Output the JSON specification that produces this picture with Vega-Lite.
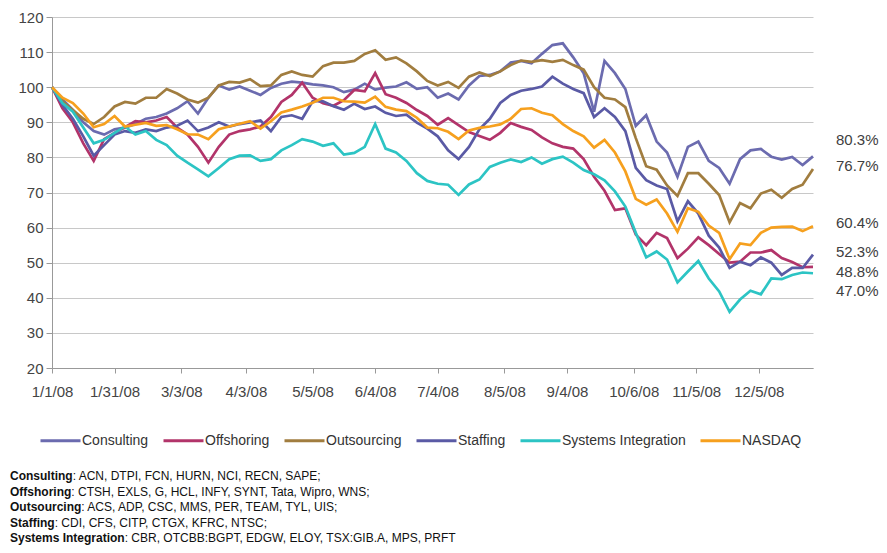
{
"$schema": "https://vega.github.io/schema/vega-lite/v6.json",
"padding": {"left": 10, "top": 10, "right": 5, "bottom": 5},
"background": "white",
"config": {"font": "Liberation Sans", "view": {"stroke": null}},
"bounds": "flush",
"spacing": 108,
"datasets": {
"idx": [
{"date":"2008-01-01","Consulting":100,"Offshoring":100,"Outsourcing":100,"Staffing":100,"Systems Integration":100,"NASDAQ":100},
{"date":"2008-01-06","Consulting":96.5,"Offshoring":94,"Outsourcing":96,"Staffing":95,"Systems Integration":95.5,"NASDAQ":97},
{"date":"2008-01-11","Consulting":93.5,"Offshoring":90,"Outsourcing":93.5,"Staffing":91,"Systems Integration":93,"NASDAQ":95.5},
{"date":"2008-01-16","Consulting":90,"Offshoring":84,"Outsourcing":91,"Staffing":86,"Systems Integration":88.5,"NASDAQ":92.5},
{"date":"2008-01-21","Consulting":87.5,"Offshoring":79,"Outsourcing":89.5,"Staffing":80.5,"Systems Integration":84,"NASDAQ":88.6},
{"date":"2008-01-26","Consulting":86.5,"Offshoring":85.2,"Outsourcing":91.5,"Staffing":83.5,"Systems Integration":85,"NASDAQ":89.5},
{"date":"2008-01-31","Consulting":88,"Offshoring":87,"Outsourcing":94.5,"Staffing":86.5,"Systems Integration":87,"NASDAQ":91.8},
{"date":"2008-02-05","Consulting":88.5,"Offshoring":88.6,"Outsourcing":95.8,"Staffing":87.5,"Systems Integration":88.8,"NASDAQ":88.8},
{"date":"2008-02-10","Consulting":89.5,"Offshoring":90.3,"Outsourcing":95.3,"Staffing":87,"Systems Integration":86.5,"NASDAQ":89.3},
{"date":"2008-02-15","Consulting":91,"Offshoring":90,"Outsourcing":97,"Staffing":88,"Systems Integration":87.5,"NASDAQ":89.8},
{"date":"2008-02-20","Consulting":91.5,"Offshoring":90.5,"Outsourcing":97,"Staffing":87.5,"Systems Integration":85,"NASDAQ":89},
{"date":"2008-02-25","Consulting":92.5,"Offshoring":91.5,"Outsourcing":99.5,"Staffing":88.5,"Systems Integration":83.5,"NASDAQ":89.2},
{"date":"2008-03-01","Consulting":94,"Offshoring":88.5,"Outsourcing":98.2,"Staffing":89,"Systems Integration":80.5,"NASDAQ":88},
{"date":"2008-03-06","Consulting":96,"Offshoring":86.5,"Outsourcing":96.5,"Staffing":90.5,"Systems Integration":78.5,"NASDAQ":86.6},
{"date":"2008-03-11","Consulting":92.5,"Offshoring":83,"Outsourcing":95.6,"Staffing":87.5,"Systems Integration":76.6,"NASDAQ":86.5},
{"date":"2008-03-16","Consulting":97,"Offshoring":78.5,"Outsourcing":97,"Staffing":88.5,"Systems Integration":74.6,"NASDAQ":85.2},
{"date":"2008-03-21","Consulting":100.5,"Offshoring":83,"Outsourcing":100.5,"Staffing":90,"Systems Integration":77,"NASDAQ":88},
{"date":"2008-03-26","Consulting":99.3,"Offshoring":86.5,"Outsourcing":101.5,"Staffing":88.8,"Systems Integration":79.5,"NASDAQ":88.8},
{"date":"2008-03-31","Consulting":100.2,"Offshoring":87.5,"Outsourcing":101.3,"Staffing":89.5,"Systems Integration":80.5,"NASDAQ":89.6},
{"date":"2008-04-05","Consulting":99,"Offshoring":88,"Outsourcing":102.3,"Staffing":90,"Systems Integration":80.6,"NASDAQ":90.3},
{"date":"2008-04-10","Consulting":97.8,"Offshoring":88.8,"Outsourcing":100.3,"Staffing":90.5,"Systems Integration":79,"NASDAQ":88.2},
{"date":"2008-04-15","Consulting":99.8,"Offshoring":91.5,"Outsourcing":100.5,"Staffing":87.5,"Systems Integration":79.5,"NASDAQ":90.3},
{"date":"2008-04-20","Consulting":101,"Offshoring":95.8,"Outsourcing":103.5,"Staffing":91.5,"Systems Integration":82,"NASDAQ":92.8},
{"date":"2008-04-25","Consulting":101.6,"Offshoring":97.8,"Outsourcing":104.5,"Staffing":92,"Systems Integration":83.5,"NASDAQ":93.6},
{"date":"2008-04-30","Consulting":101.3,"Offshoring":101.3,"Outsourcing":103.5,"Staffing":91,"Systems Integration":85.2,"NASDAQ":94.5},
{"date":"2008-05-05","Consulting":100.8,"Offshoring":97,"Outsourcing":103,"Staffing":96,"Systems Integration":84.5,"NASDAQ":95.6},
{"date":"2008-05-10","Consulting":100.5,"Offshoring":95.4,"Outsourcing":106,"Staffing":96,"Systems Integration":83.3,"NASDAQ":97},
{"date":"2008-05-15","Consulting":100,"Offshoring":94.7,"Outsourcing":107,"Staffing":94.6,"Systems Integration":84,"NASDAQ":97},
{"date":"2008-05-20","Consulting":98.6,"Offshoring":96.3,"Outsourcing":107,"Staffing":93.6,"Systems Integration":80.8,"NASDAQ":96},
{"date":"2008-05-25","Consulting":99.3,"Offshoring":99.2,"Outsourcing":107.5,"Staffing":95.3,"Systems Integration":81.3,"NASDAQ":95.9},
{"date":"2008-05-30","Consulting":101,"Offshoring":98.8,"Outsourcing":109.5,"Staffing":93.8,"Systems Integration":83,"NASDAQ":95.6},
{"date":"2008-06-04","Consulting":99.3,"Offshoring":104,"Outsourcing":110.5,"Staffing":94.5,"Systems Integration":89.5,"NASDAQ":97.3},
{"date":"2008-06-09","Consulting":99.9,"Offshoring":98,"Outsourcing":107.8,"Staffing":92.7,"Systems Integration":82.5,"NASDAQ":94.4},
{"date":"2008-06-14","Consulting":100.2,"Offshoring":97,"Outsourcing":108.5,"Staffing":91.8,"Systems Integration":81.4,"NASDAQ":93.6},
{"date":"2008-06-19","Consulting":101.4,"Offshoring":95.5,"Outsourcing":106.8,"Staffing":92.2,"Systems Integration":79,"NASDAQ":93.2},
{"date":"2008-06-24","Consulting":99.5,"Offshoring":93.5,"Outsourcing":104.5,"Staffing":89.9,"Systems Integration":75.5,"NASDAQ":91.3},
{"date":"2008-06-29","Consulting":100,"Offshoring":91.8,"Outsourcing":101.8,"Staffing":88.2,"Systems Integration":73.3,"NASDAQ":88.5},
{"date":"2008-07-04","Consulting":97,"Offshoring":89.3,"Outsourcing":100.5,"Staffing":86,"Systems Integration":72.5,"NASDAQ":88.3},
{"date":"2008-07-09","Consulting":98.2,"Offshoring":91.2,"Outsourcing":101.5,"Staffing":82,"Systems Integration":72.2,"NASDAQ":87.3},
{"date":"2008-07-14","Consulting":96.5,"Offshoring":89.2,"Outsourcing":99.8,"Staffing":79.5,"Systems Integration":69.3,"NASDAQ":85.2},
{"date":"2008-07-19","Consulting":100.5,"Offshoring":87.2,"Outsourcing":103,"Staffing":83,"Systems Integration":72.3,"NASDAQ":87.7},
{"date":"2008-07-24","Consulting":103.2,"Offshoring":86.1,"Outsourcing":104.2,"Staffing":88,"Systems Integration":73.7,"NASDAQ":88.4},
{"date":"2008-07-29","Consulting":103.5,"Offshoring":85,"Outsourcing":103.2,"Staffing":91,"Systems Integration":77.3,"NASDAQ":88.8},
{"date":"2008-08-03","Consulting":104.5,"Offshoring":87,"Outsourcing":104.5,"Staffing":95.5,"Systems Integration":78.5,"NASDAQ":89.4},
{"date":"2008-08-08","Consulting":107,"Offshoring":89.8,"Outsourcing":106.3,"Staffing":97.8,"Systems Integration":79.4,"NASDAQ":91},
{"date":"2008-08-13","Consulting":107.5,"Offshoring":88.7,"Outsourcing":107.6,"Staffing":99,"Systems Integration":78.7,"NASDAQ":93.8},
{"date":"2008-08-18","Consulting":106.8,"Offshoring":87.8,"Outsourcing":107.2,"Staffing":99.5,"Systems Integration":80,"NASDAQ":94},
{"date":"2008-08-23","Consulting":109.5,"Offshoring":85.7,"Outsourcing":107.7,"Staffing":100.2,"Systems Integration":78.2,"NASDAQ":92.7},
{"date":"2008-08-28","Consulting":112,"Offshoring":84,"Outsourcing":107.2,"Staffing":103,"Systems Integration":79.5,"NASDAQ":92},
{"date":"2008-09-02","Consulting":112.5,"Offshoring":83,"Outsourcing":107.8,"Staffing":101,"Systems Integration":80.2,"NASDAQ":89.5},
{"date":"2008-09-07","Consulting":108.5,"Offshoring":82.5,"Outsourcing":106.3,"Staffing":99.5,"Systems Integration":78.5,"NASDAQ":87.5},
{"date":"2008-09-12","Consulting":104,"Offshoring":79.5,"Outsourcing":105,"Staffing":98.3,"Systems Integration":76.4,"NASDAQ":86},
{"date":"2008-09-17","Consulting":93,"Offshoring":74.5,"Outsourcing":100,"Staffing":91.5,"Systems Integration":75.2,"NASDAQ":82.8},
{"date":"2008-09-22","Consulting":107.5,"Offshoring":70.5,"Outsourcing":97,"Staffing":94,"Systems Integration":73.5,"NASDAQ":85},
{"date":"2008-09-27","Consulting":104,"Offshoring":65,"Outsourcing":96.5,"Staffing":91.5,"Systems Integration":70.3,"NASDAQ":81.4},
{"date":"2008-10-02","Consulting":99.5,"Offshoring":65.5,"Outsourcing":94.3,"Staffing":87.5,"Systems Integration":66,"NASDAQ":76},
{"date":"2008-10-07","Consulting":89,"Offshoring":58,"Outsourcing":85.5,"Staffing":77,"Systems Integration":58.5,"NASDAQ":68.2},
{"date":"2008-10-12","Consulting":92,"Offshoring":55,"Outsourcing":77.5,"Staffing":73.5,"Systems Integration":51.5,"NASDAQ":66.5},
{"date":"2008-10-17","Consulting":84.5,"Offshoring":58.5,"Outsourcing":76.5,"Staffing":72,"Systems Integration":53.2,"NASDAQ":68},
{"date":"2008-10-22","Consulting":81.4,"Offshoring":57,"Outsourcing":72,"Staffing":71,"Systems Integration":50.9,"NASDAQ":64},
{"date":"2008-10-27","Consulting":74.5,"Offshoring":51.3,"Outsourcing":69,"Staffing":61.8,"Systems Integration":44.4,"NASDAQ":58.8},
{"date":"2008-11-01","Consulting":83,"Offshoring":54,"Outsourcing":75.5,"Staffing":67.5,"Systems Integration":47.5,"NASDAQ":65.5},
{"date":"2008-11-06","Consulting":84.5,"Offshoring":57.2,"Outsourcing":75.5,"Staffing":64,"Systems Integration":50.5,"NASDAQ":64.5},
{"date":"2008-11-11","Consulting":79,"Offshoring":55,"Outsourcing":72.5,"Staffing":57.7,"Systems Integration":45.5,"NASDAQ":60.6},
{"date":"2008-11-16","Consulting":77,"Offshoring":52.5,"Outsourcing":69.3,"Staffing":54.3,"Systems Integration":41.8,"NASDAQ":58.5},
{"date":"2008-11-21","Consulting":72.5,"Offshoring":50,"Outsourcing":61.5,"Staffing":48.5,"Systems Integration":36,"NASDAQ":51},
{"date":"2008-11-26","Consulting":79.5,"Offshoring":50.3,"Outsourcing":67,"Staffing":50.3,"Systems Integration":39.5,"NASDAQ":55.5},
{"date":"2008-12-01","Consulting":82,"Offshoring":52.9,"Outsourcing":65.5,"Staffing":49.3,"Systems Integration":42,"NASDAQ":55},
{"date":"2008-12-06","Consulting":82.4,"Offshoring":52.9,"Outsourcing":69.7,"Staffing":51.5,"Systems Integration":41,"NASDAQ":58.5},
{"date":"2008-12-11","Consulting":80.2,"Offshoring":53.6,"Outsourcing":70.8,"Staffing":50,"Systems Integration":45.5,"NASDAQ":60},
{"date":"2008-12-16","Consulting":79.4,"Offshoring":51.3,"Outsourcing":68.5,"Staffing":46.5,"Systems Integration":45.3,"NASDAQ":60.2},
{"date":"2008-12-21","Consulting":80.1,"Offshoring":50.2,"Outsourcing":71,"Staffing":48.5,"Systems Integration":46.5,"NASDAQ":60.3},
{"date":"2008-12-26","Consulting":77.8,"Offshoring":48.7,"Outsourcing":72.2,"Staffing":48.5,"Systems Integration":47.2,"NASDAQ":59},
{"date":"2008-12-31","Consulting":80.3,"Offshoring":48.8,"Outsourcing":76.7,"Staffing":52.3,"Systems Integration":47,"NASDAQ":60.4}
],
"labels": [
{"series":"Consulting","date":"2008-12-31","value":80.3,"label":"80.3%"},
{"series":"Outsourcing","date":"2008-12-31","value":76.7,"label":"76.7%"},
{"series":"NASDAQ","date":"2008-12-31","value":60.4,"label":"60.4%"},
{"series":"Staffing","date":"2008-12-31","value":52.3,"label":"52.3%"},
{"series":"Offshoring","date":"2008-12-31","value":48.8,"label":"48.8%"},
{"series":"Systems Integration","date":"2008-12-31","value":47.0,"label":"47.0%"}
],
"notes": [
{"name":"Consulting","rest":": ACN, DTPI, FCN, HURN, NCI, RECN, SAPE;"},
{"name":"Offshoring","rest":": CTSH, EXLS, G, HCL, INFY, SYNT, Tata, Wipro, WNS;"},
{"name":"Outsourcing","rest":": ACS, ADP, CSC, MMS, PER, TEAM, TYL, UIS;"},
{"name":"Staffing","rest":": CDI, CFS, CITP, CTGX, KFRC, NTSC;"},
{"name":"Systems Integration","rest":": CBR, OTCBB:BGPT, EDGW, ELOY, TSX:GIB.A, MPS, PRFT"}
]
},
"vconcat": [
{
"width": 761,
"height": 351,
"encoding": {
"x": {"field": "date", "type": "temporal",
 "scale": {"type": "utc", "nice": false, "domain": [{"year":2008,"month":1,"date":1,"utc":true},{"year":2008,"month":12,"date":31,"utc":true}]},
 "axis": {"title": null, "grid": false, "labelFlush": false, "labelOverlap": false,
  "values": [{"year":2008,"month":1,"date":1,"utc":true},{"year":2008,"month":1,"date":31,"utc":true},{"year":2008,"month":3,"date":3,"utc":true},{"year":2008,"month":4,"date":3,"utc":true},{"year":2008,"month":5,"date":5,"utc":true},{"year":2008,"month":6,"date":4,"utc":true},{"year":2008,"month":7,"date":4,"utc":true},{"year":2008,"month":8,"date":5,"utc":true},{"year":2008,"month":9,"date":4,"utc":true},{"year":2008,"month":10,"date":6,"utc":true},{"year":2008,"month":11,"date":5,"utc":true},{"year":2008,"month":12,"date":5,"utc":true}],
  "labelExpr": "utcFormat(datum.value, '%-m/%-d/%y')",
  "domainColor": "#999999", "tickColor": "#999999", "tickSize": 5, "labelPadding": 11, "labelFontSize": 15, "labelColor": "#444444"}},
"y": {"field": "value", "type": "quantitative",
 "scale": {"domain": [20, 120], "nice": false, "zero": false},
 "axis": {"title": null, "values": [20,30,40,50,60,70,80,90,100,110,120], "grid": true, "gridColor": "#c8c8c8", "gridWidth": 1,
  "domainColor": "#999999", "tickColor": "#999999", "tickSize": 6, "labelPadding": 3, "labelFontSize": 15, "labelColor": "#444444"}}
},
"layer": [
{
"data": {"name": "idx"},
"transform": [{"fold": ["Consulting","Offshoring","Outsourcing","Staffing","Systems Integration","NASDAQ"], "as": ["series","value"]}],
"mark": {"type": "line", "strokeWidth": 2.7},
"encoding": {
 "color": {"field": "series", "type": "nominal",
  "scale": {"domain": ["Consulting","Offshoring","Outsourcing","Staffing","Systems Integration","NASDAQ"],
            "range": ["#6B6BAF","#B2346A","#A17D3F","#5A5AA5","#2CC4C4","#F6A01E"]},
  "legend": {"title": null, "orient": "none", "legendX": -13, "legendY": 402, "direction": "horizontal", "columns": 6,
   "symbolType": "stroke", "symbolSize": 1600, "symbolStrokeWidth": 3, "labelFontSize": 14, "labelColor": "#333333",
   "columnPadding": 8, "labelOffset": 0}}
}
},
{
"data": {"name": "labels"},
"transform": [{"filter": {"field": "series", "oneOf": ["Consulting"]}}],
"mark": {"type": "text", "align": "left", "baseline": "middle", "dx": 23, "dy": -16, "fontSize": 15, "color": "#404040"},
"encoding": {"text": {"field": "label"}}
},
{
"data": {"name": "labels"},
"transform": [{"filter": {"field": "series", "oneOf": ["Outsourcing","NASDAQ","Staffing"]}}],
"mark": {"type": "text", "align": "left", "baseline": "middle", "dx": 23, "dy": -3, "fontSize": 15, "color": "#404040"},
"encoding": {"text": {"field": "label"}}
},
{
"data": {"name": "labels"},
"transform": [{"filter": {"field": "series", "oneOf": ["Offshoring"]}}],
"mark": {"type": "text", "align": "left", "baseline": "middle", "dx": 23, "dy": 5, "fontSize": 15, "color": "#404040"},
"encoding": {"text": {"field": "label"}}
},
{
"data": {"name": "labels"},
"transform": [{"filter": {"field": "series", "oneOf": ["Systems Integration"]}}],
"mark": {"type": "text", "align": "left", "baseline": "middle", "dx": 23, "dy": 18, "fontSize": 15, "color": "#404040"},
"encoding": {"text": {"field": "label"}}
}
]
},
{
"width": 761,
"height": 62,
"data": {"name": "notes"},
"encoding": {
 "y": {"field": "name", "type": "nominal", "sort": null, "scale": {"type": "point", "padding": 0}, "axis": null},
 "x": {"value": 0}
},
"layer": [
{"mark": {"type": "text", "align": "left", "baseline": "middle", "fontWeight": "bold", "fontSize": 12, "dx": -42, "color": "#111111"},
 "encoding": {"text": {"field": "name"}}},
{"mark": {"type": "text", "align": "left", "baseline": "middle", "fontSize": 12, "color": "#111111",
  "dx": {"expr": "-42 + 12*(0.611*length(datum.name) - 0.333*length(replace(datum.name, regexp('[^ilI ]','g'), '')) - 0.278*length(replace(datum.name, regexp('[^tf]','g'), '')) - 0.222*length(replace(datum.name, regexp('[^r]','g'), '')) - 0.055*length(replace(datum.name, regexp('[^saecy]','g'), '')) + 0.167*length(replace(datum.name, regexp('[^O]','g'), '')) + 0.111*length(replace(datum.name, regexp('[^C]','g'), '')) + 0.056*length(replace(datum.name, regexp('[^S]','g'), '')) + 0.278*length(replace(datum.name, regexp('[^m]','g'), '')))"}},
 "encoding": {"text": {"field": "rest"}}}
]
}
]
}
